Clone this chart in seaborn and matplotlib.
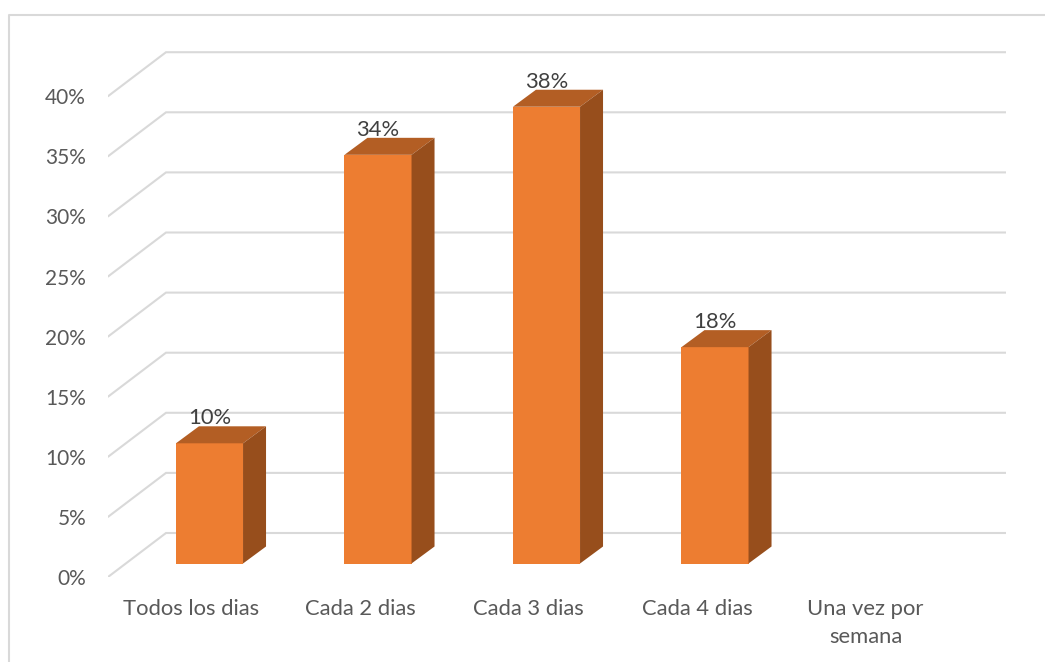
import matplotlib
matplotlib.use("Agg")
import matplotlib.pyplot as plt
from matplotlib.lines import Line2D
from matplotlib.patches import Polygon
import numpy as np
import seaborn as sns

categorias = ["Todos los dias", "Cada 2 dias", "Cada 3 dias", "Cada 4 dias", "Una vez por\nsemana"]
valores = [10, 34, 38, 18, 0]
ticks_pct = [0, 5, 10, 15, 20, 25, 30, 35, 40]

W, H = 1045, 662
PASO_X = 168.5      # px entre categorias
PASO_Y = 12.02      # px por cada 1%
# profundidad del efecto 3D, en unidades de datos
PROF_X = 23 / PASO_X
PROF_Y = 17 / PASO_Y
# pared del fondo respecto al plano de las barras
PARED_X = 58 / PASO_X
PISO_FRENTE = -13.5 / PASO_Y
PISO_FONDO = 30.5 / PASO_Y

sns.set_theme(style="white")
plt.rcParams["font.family"] = ["Lato", "DejaVu Sans"]

fig = plt.figure(figsize=(W / 100, H / 100), dpi=100)
ax = fig.add_axes([108 / W, 1 - 577 / H, (1006 - 108) / W, (577 - 40) / H])

sns.barplot(x=categorias, y=valores, color="#ED7D31", saturation=1, width=0.398, ax=ax, zorder=3,
            linewidth=0)

x_izq = (108 - 209.5) / PASO_X
x_der = (1006 - 209.5) / PASO_X
ax.set_xlim(x_izq, x_der)
ax.set_ylim(PISO_FRENTE, (563.5 - 40) / PASO_Y)

# Lineas de la pared y del lado izquierdo
for p in ticks_pct:
    ax.plot([x_izq, x_izq + PARED_X, x_der], [p + PISO_FRENTE, p + PISO_FONDO, p + PISO_FONDO],
            color="#D9D9D9", lw=1.5, zorder=1, solid_joinstyle="miter")

# Caras superior y lateral de cada barra
for barra, v in zip(ax.containers[0], valores):
    if v == 0:
        continue
    x0 = barra.get_x()
    x1 = x0 + barra.get_width()
    arriba = [(x0, v), (x1, v), (x1 + PROF_X, v + PROF_Y), (x0 + PROF_X, v + PROF_Y)]
    lado = [(x1, 0), (x1 + PROF_X, PROF_Y), (x1 + PROF_X, v + PROF_Y), (x1, v)]
    ax.add_patch(Polygon(arriba, color="#B35E24", lw=0, zorder=3))
    ax.add_patch(Polygon(lado, color="#974E1C", lw=0, zorder=3))

etiquetas = [f"{v}%" if v else "" for v in valores]
ax.bar_label(ax.containers[0], labels=etiquetas, padding=10.7, fontsize=15.8, color="#404040", zorder=5)

ax.set_yticks(np.array(ticks_pct) + PISO_FRENTE, [f"{p}%" for p in ticks_pct])
ax.set_xticks(np.arange(len(categorias)) - 18 / PASO_X, categorias)
ax.tick_params(axis="y", length=0, pad=15.8, labelsize=15, labelcolor="#595959")
ax.tick_params(axis="x", length=0, pad=15.5, labelsize=15.8, labelcolor="#595959")
for etiqueta in ax.get_xticklabels():
    etiqueta.set_linespacing(1.55)
ax.set_xlabel("")
ax.set_ylabel("")
sns.despine(ax=ax, left=True, bottom=True)

# Borde del grafico
fig.add_artist(Line2D([9 / W, 9 / W, 1], [0, 1 - 15 / H, 1 - 15 / H], color="#D9D9D9", lw=1.5))

fig.savefig("out.png", dpi=100)
